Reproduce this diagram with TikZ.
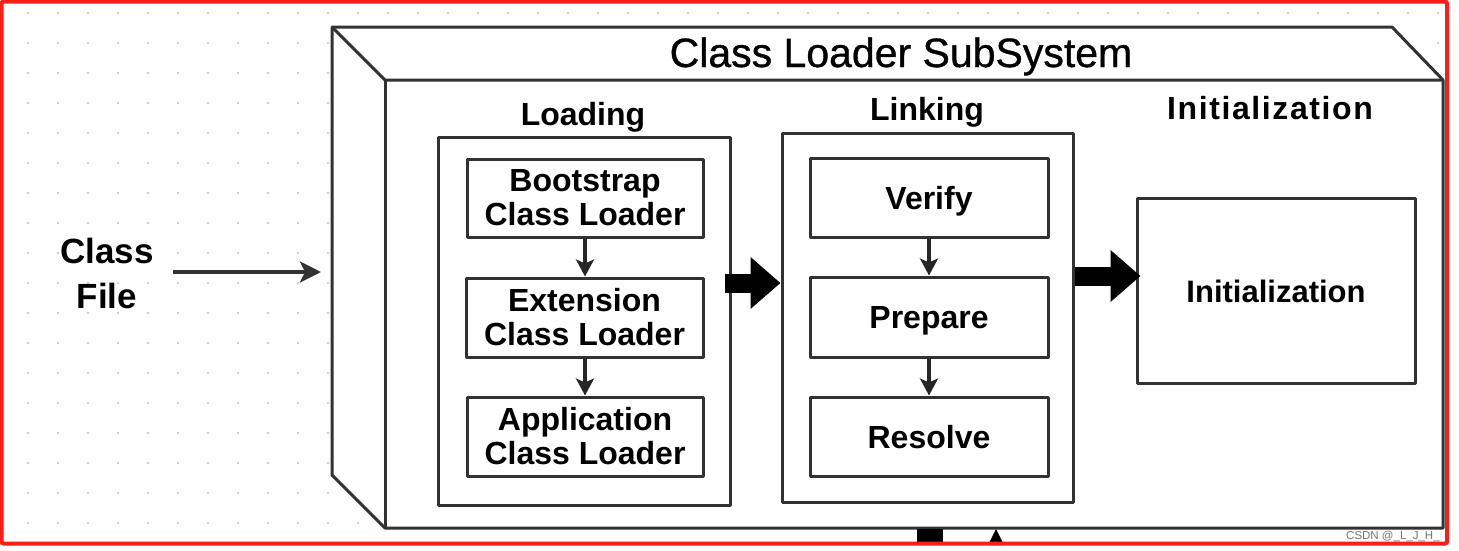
\documentclass[tikz,border=0pt]{standalone}
\usepackage{fontspec}
\setmainfont{Liberation Sans}
\newfontfamily\spacedfont[LetterSpace=5]{Liberation Sans}
\newfontfamily\titlefont[FakeBold=0.8]{Liberation Sans}
\usetikzlibrary{arrows.meta}
\definecolor{edge}{RGB}{50,50,50}
\definecolor{dotc}{RGB}{190,190,190}
\definecolor{frame}{RGB}{250,30,25}
\tikzset{
  boxline/.style={draw=edge, line width=3pt, line join=round},
  stagebox/.style={boxline, fill=white, inner sep=0pt},
  inbox/.style={boxline, fill=white, inner sep=0pt, align=center,
    font=\fontsize{32}{34}\selectfont\bfseries},
  oneline/.style={text height=23pt, text depth=0pt},
  heading/.style={anchor=base, inner sep=0pt, font=\fontsize{32}{34}\selectfont\bfseries},
  thinarrow/.style={draw=black!85, line width=3.2pt, -{Stealth[length=17pt 0 0, width=18pt 0 0, inset=4pt 0 0]}},
  feedarrow/.style={draw=black!80, line width=3.4pt, -{Stealth[length=21pt 0 0, width=21pt 0 0, inset=5pt 0 0]}},
  bigarrow/.style={draw=black, line width=19pt, -{Triangle[length=30pt 0 0, width=50pt 0 0]}},
}
\begin{document}
\begin{tikzpicture}[x=1pt, y=-1pt]
\useasboundingbox (0,0) rectangle (1459,550);
\fill[white] (0,0) rectangle (1459,550);
% dot grid
\foreach \x in {28,58,...,1440} {
  \foreach \y in {13,43,...,530} {
    \fill[dotc] (\x,\y) circle (1.1pt);
  }
}
% 3D subsystem box
\fill[white] (332,27) -- (1392,27) -- (1443,80) -- (1443,528) -- (385,528) -- (332,475) -- cycle;
\draw[boxline] (332,27) -- (1392,27) -- (1443,80) -- (1443,528) -- (385,528) -- (332,475) -- cycle;
\draw[boxline] (332,27) -- (385,80) -- (1443,80);
\draw[boxline] (385,80) -- (385,528);
\node[anchor=base, inner sep=0pt, font=\fontsize{41}{44}\titlefont] (title) at (901,67) {Class Loader SubSystem};

% class file
\node[inner sep=0pt, align=center, font=\fontsize{35}{45}\selectfont\bfseries] (cf) at (107,273) {Class\\File};
\coordinate (cfs) at (173,272);
\coordinate (cfe) at (321,272);
\draw[feedarrow] (cfs) -- (cfe);

% Loading
\node[heading] (hload) at (583,125) {Loading};
\node[stagebox, minimum width=292pt, minimum height=368pt] (load) at (584,321) {};
\node[inbox, minimum width=236pt, minimum height=78pt] (boot) at (585,198) {Bootstrap\\Class Loader};
\node[inbox, minimum width=237pt, minimum height=79pt] (ext) at (584.5,317.5) {Extension\\Class Loader};
\node[inbox, minimum width=236pt, minimum height=79pt] (app) at (585,436.5) {Application\\Class Loader};
\draw[thinarrow] (boot.south) -- (ext.north -| boot.south);
\draw[thinarrow] (ext.south -| boot.south) -- (app.north -| boot.south);

% Linking
\node[heading] (hlink) at (927,120) {Linking};
\node[stagebox, minimum width=291pt, minimum height=369pt] (link) at (927.5,317.5) {};
\node[inbox, oneline, minimum width=238pt, minimum height=79pt] (ver) at (929,197.5) {Verify};
\node[inbox, oneline, minimum width=238pt, minimum height=80pt] (prep) at (929,317) {Prepare};
\node[inbox, oneline, minimum width=238pt, minimum height=79pt] (res) at (929,436.5) {Resolve};
\draw[thinarrow] (ver.south) -- (prep.north);
\draw[thinarrow] (prep.south) -- (res.north);

% Initialization
\node[anchor=base, inner sep=0pt, font=\fontsize{32}{34}\spacedfont\bfseries] (hinit) at (1270,119) {Initialization};
\node[boxline, fill=white, inner sep=0pt, oneline, minimum width=278pt, minimum height=185pt,
  font=\fontsize{31}{34}\selectfont\bfseries] (init) at (1276,290.5) {Initialization};

% big arrows
\coordinate (a1) at (725,283);
\draw[bigarrow] (a1) -- (link.west |- a1);
\coordinate (a2) at (1075,276);
\draw[bigarrow, shorten >=-5pt] (a2) -- (init.west |- a2);

% cropped arrows leaving the bottom
\fill[black] (917,529) rectangle (943,545);
\fill[black] (996,529) -- (1004,545) -- (988,545) -- cycle;

% watermark
\node[anchor=base west, inner sep=0pt, text=black!55, font=\fontsize{11.5}{12}\selectfont] (wm) at (1346,539) {CSDN @\_L\_J\_H\_};

% red frame
\draw[frame, line width=4pt, rounded corners=2pt] (1.5,1.5) rectangle (1447,543.5);
\end{tikzpicture}
\end{document}
